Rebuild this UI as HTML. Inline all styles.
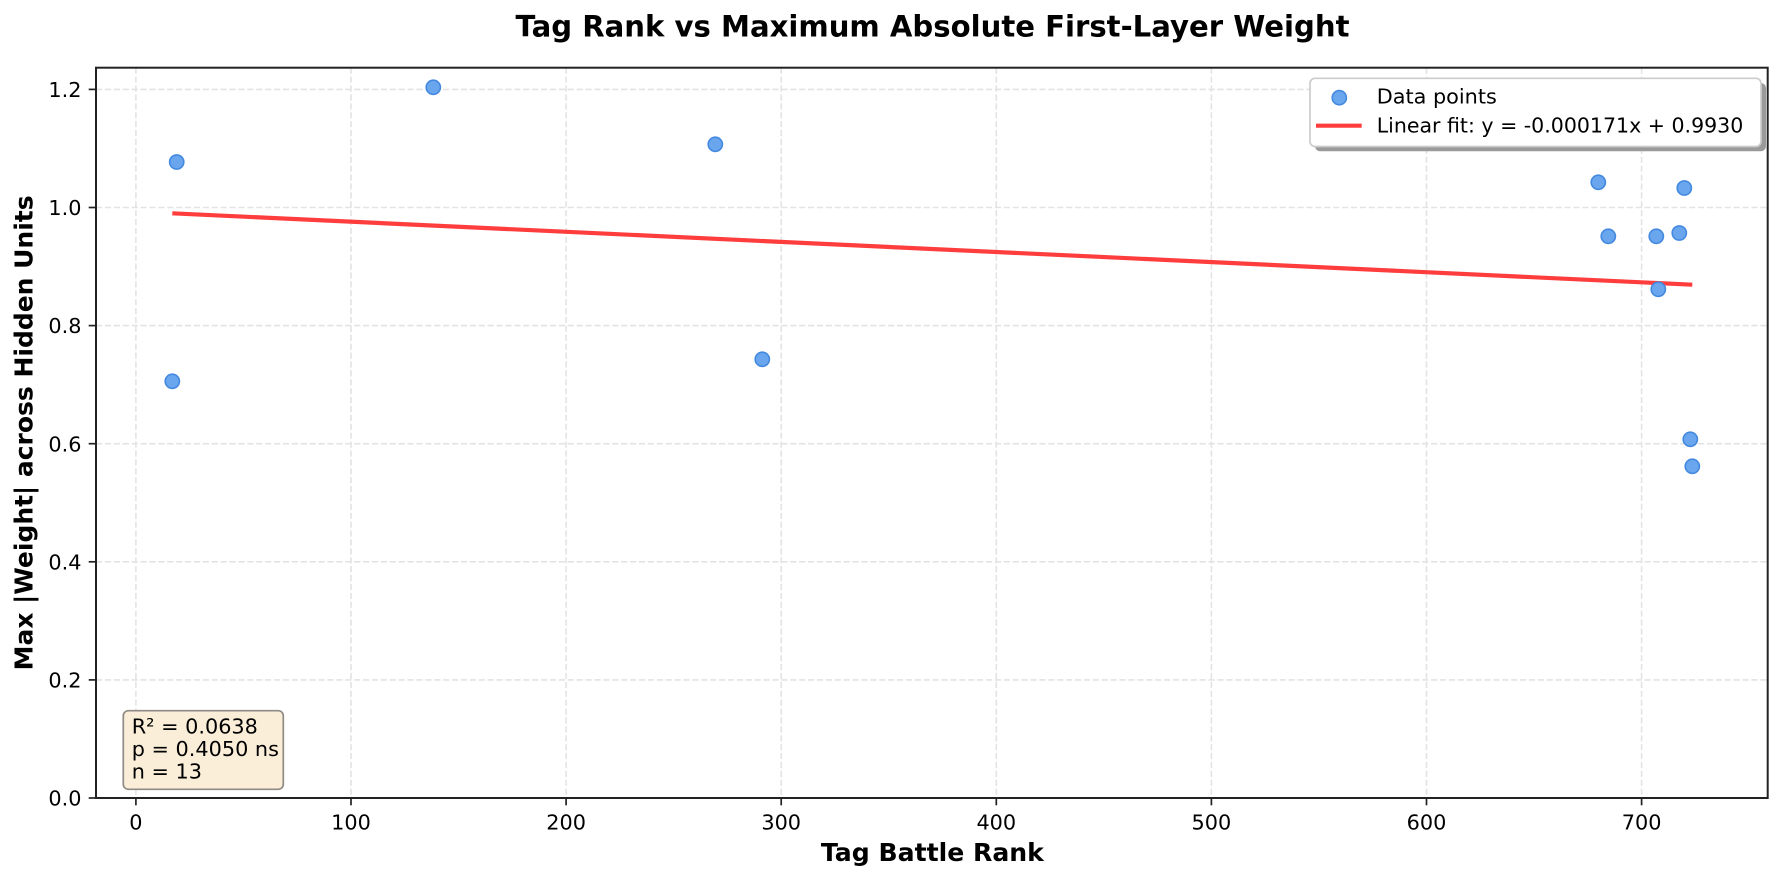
<!DOCTYPE html>
<html>
<head>
<meta charset="utf-8">
<style>
  html, body { margin: 0; padding: 0; background: #ffffff; }
  svg { display: block; }
  text { font-family: "DejaVu Sans", "Liberation Sans", sans-serif; fill: #000; }
</style>
</head>
<body>
<svg width="1783" height="880" viewBox="0 0 1783 880" xmlns="http://www.w3.org/2000/svg">
  <rect x="0" y="0" width="1783" height="880" fill="#ffffff"/>

  <!-- Grid -->
  <g stroke="#e3e3e3" stroke-width="1.6" stroke-dasharray="6.2 2.7" fill="none">
    <line x1="135.9" y1="67.7" x2="135.9" y2="798"/>
    <line x1="351" y1="67.7" x2="351" y2="798"/>
    <line x1="566.1" y1="67.7" x2="566.1" y2="798"/>
    <line x1="781.2" y1="67.7" x2="781.2" y2="798"/>
    <line x1="996.3" y1="67.7" x2="996.3" y2="798"/>
    <line x1="1211.4" y1="67.7" x2="1211.4" y2="798"/>
    <line x1="1426.5" y1="67.7" x2="1426.5" y2="798"/>
    <line x1="1641.6" y1="67.7" x2="1641.6" y2="798"/>
    <line x1="96" y1="679.9" x2="1767.7" y2="679.9"/>
    <line x1="96" y1="561.8" x2="1767.7" y2="561.8"/>
    <line x1="96" y1="443.7" x2="1767.7" y2="443.7"/>
    <line x1="96" y1="325.6" x2="1767.7" y2="325.6"/>
    <line x1="96" y1="207.5" x2="1767.7" y2="207.5"/>
    <line x1="96" y1="89.4" x2="1767.7" y2="89.4"/>
  </g>

  <!-- Fit line -->
  <line x1="172.3" y1="213.3" x2="1692.3" y2="284.7" stroke="#ff3333" stroke-opacity="0.95" stroke-width="4.2" stroke-linecap="butt"/>

  <!-- Scatter points -->
  <g fill="#6aa6ee" stroke="#4489e0" stroke-width="1.6">
    <circle cx="176.7" cy="162" r="7.1"/>
    <circle cx="172.3" cy="381.3" r="7.1"/>
    <circle cx="433.3" cy="87.3" r="7.1"/>
    <circle cx="715.3" cy="144.3" r="7.1"/>
    <circle cx="762.3" cy="359.3" r="7.1"/>
    <circle cx="1598.3" cy="182.3" r="7.1"/>
    <circle cx="1608.3" cy="236.3" r="7.1"/>
    <circle cx="1684.3" cy="188" r="7.1"/>
    <circle cx="1656.3" cy="236.3" r="7.1"/>
    <circle cx="1679.3" cy="233" r="7.1"/>
    <circle cx="1658.3" cy="289.3" r="7.1"/>
    <circle cx="1690.3" cy="439.3" r="7.1"/>
    <circle cx="1692.3" cy="466.3" r="7.1"/>
  </g>

  <!-- Axes spines -->
  <rect x="96" y="67.7" width="1671.7" height="730.3" fill="none" stroke="#222222" stroke-width="2"/>

  <!-- Ticks -->
  <g stroke="#222222" stroke-width="1.7">
    <line x1="135.9" y1="798" x2="135.9" y2="805.3"/>
    <line x1="351" y1="798" x2="351" y2="805.3"/>
    <line x1="566.1" y1="798" x2="566.1" y2="805.3"/>
    <line x1="781.2" y1="798" x2="781.2" y2="805.3"/>
    <line x1="996.3" y1="798" x2="996.3" y2="805.3"/>
    <line x1="1211.4" y1="798" x2="1211.4" y2="805.3"/>
    <line x1="1426.5" y1="798" x2="1426.5" y2="805.3"/>
    <line x1="1641.6" y1="798" x2="1641.6" y2="805.3"/>
    <line x1="88.7" y1="798" x2="96" y2="798"/>
    <line x1="88.7" y1="679.9" x2="96" y2="679.9"/>
    <line x1="88.7" y1="561.8" x2="96" y2="561.8"/>
    <line x1="88.7" y1="443.7" x2="96" y2="443.7"/>
    <line x1="88.7" y1="325.6" x2="96" y2="325.6"/>
    <line x1="88.7" y1="207.5" x2="96" y2="207.5"/>
    <line x1="88.7" y1="89.4" x2="96" y2="89.4"/>
  </g>

  <!-- X tick labels -->
  <g font-size="20.8" text-anchor="middle">
    <text x="135.9" y="829.5">0</text>
    <text x="351" y="829.5">100</text>
    <text x="566.1" y="829.5">200</text>
    <text x="781.2" y="829.5">300</text>
    <text x="996.3" y="829.5">400</text>
    <text x="1211.4" y="829.5">500</text>
    <text x="1426.5" y="829.5">600</text>
    <text x="1641.6" y="829.5">700</text>
  </g>

  <!-- Y tick labels -->
  <g font-size="20.8" text-anchor="end">
    <text x="81.5" y="805.6">0.0</text>
    <text x="81.5" y="687.5">0.2</text>
    <text x="81.5" y="569.4">0.4</text>
    <text x="81.5" y="451.3">0.6</text>
    <text x="81.5" y="333.2">0.8</text>
    <text x="81.5" y="215.1">1.0</text>
    <text x="81.5" y="97">1.2</text>
  </g>

  <!-- Title -->
  <text x="932.5" y="36.7" font-size="29.2" font-weight="bold" text-anchor="middle" textLength="834" lengthAdjust="spacingAndGlyphs">Tag Rank vs Maximum Absolute First-Layer Weight</text>

  <!-- X label -->
  <text x="932.4" y="861" font-size="25" font-weight="bold" text-anchor="middle" textLength="223" lengthAdjust="spacingAndGlyphs">Tag Battle Rank</text>

  <!-- Y label -->
  <text transform="translate(32.7,432.9) rotate(-90)" x="0" y="0" font-size="25" font-weight="bold" text-anchor="middle" textLength="475" lengthAdjust="spacingAndGlyphs">Max |Weight| across Hidden Units</text>

  <!-- Legend -->
  <rect x="1315" y="83" width="451" height="68.2" rx="5" ry="5" fill="#9a9a9a"/>
  <rect x="1310" y="78.3" width="451" height="68.2" rx="5" ry="5" fill="#ffffff" stroke="#cccccc" stroke-width="1.7"/>
  <circle cx="1339.3" cy="97.7" r="7.1" fill="#6aa6ee" stroke="#4489e0" stroke-width="1.6"/>
  <line x1="1316" y1="125.7" x2="1361.7" y2="125.7" stroke="#ff3333" stroke-opacity="0.95" stroke-width="4.2"/>
  <text x="1376.7" y="103.3" font-size="20.8">Data points</text>
  <text x="1376.7" y="132.7" font-size="20.8" textLength="366.6" lengthAdjust="spacingAndGlyphs">Linear fit: y = -0.000171x + 0.9930</text>

  <!-- Stats text box -->
  <rect x="123.3" y="710.7" width="160" height="78.6" rx="5" ry="5" fill="#faeed9" stroke="#8f8a84" stroke-width="1.7"/>
  <g font-size="20.8">
    <text x="131.7" y="733.5">R² = 0.0638</text>
    <text x="131.7" y="756">p = 0.4050 ns</text>
    <text x="131.7" y="778.7">n = 13</text>
  </g>
</svg>
</body>
</html>
